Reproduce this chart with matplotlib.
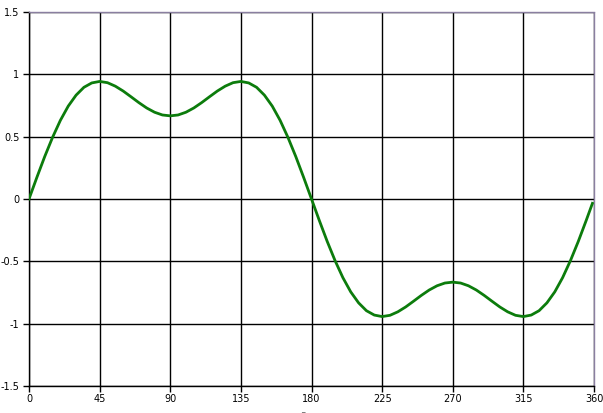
import matplotlib
matplotlib.use("Agg")
import matplotlib.pyplot as plt
from matplotlib.ticker import FuncFormatter

# curve values, every 5 degrees (plus last sample at 359)
ANGLE = list(range(0, 360, 5)) + [359]
VALUE = [
    0.000, 0.173, 0.340, 0.494, 0.631, 0.745, 0.833, 0.896, 0.931, 0.943,
    0.933, 0.905, 0.866, 0.820, 0.773, 0.730, 0.696, 0.674, 0.667, 0.674,
    0.696, 0.730, 0.773, 0.820, 0.866, 0.905, 0.933, 0.943, 0.931, 0.896,
    0.833, 0.745, 0.631, 0.494, 0.340, 0.173, 0.000,
    -0.173, -0.340, -0.494, -0.631, -0.745, -0.833, -0.896, -0.931, -0.943,
    -0.933, -0.905, -0.866, -0.820, -0.773, -0.730, -0.696, -0.674, -0.667,
    -0.674, -0.696, -0.730, -0.773, -0.820, -0.866, -0.905, -0.933, -0.943,
    -0.931, -0.896, -0.833, -0.745, -0.631, -0.494, -0.340, -0.173, -0.035,
]
X_TICKS = [0, 45, 90, 135, 180, 225, 270, 315, 360]
Y_TICKS = [-1.5, -1, -0.5, 0, 0.5, 1, 1.5]

fig = plt.figure(figsize=(6.03, 4.13), dpi=100)
ax = fig.add_axes([29 / 603, 27 / 413, 565 / 603, 374 / 413])

ax.plot(ANGLE, VALUE, color="#0c7c0c", lw=2.0, zorder=3)

ax.set_xlim(0, 360)
ax.set_ylim(-1.5, 1.5)
ax.set_xticks(X_TICKS)
ax.set_yticks(Y_TICKS)
ax.yaxis.set_major_formatter(FuncFormatter(lambda v, p: f"{v:g}"))
ax.grid(True, color="black", lw=1.0)
ax.set_axisbelow(True)
ax.tick_params(direction="out", length=4, width=1, labelsize=7, pad=3, color="black")
ax.tick_params(axis="x", pad=2)

for s in ("left", "bottom"):
    ax.spines[s].set_color("black")
    ax.spines[s].set_linewidth(1.0)
for s in ("top", "right"):
    ax.spines[s].set_color("#8a7fa0")
    ax.spines[s].set_linewidth(1.0)
    ax.spines[s].set_linestyle((0, (1, 1)))

# tiny axis title below the tick labels
fig.text(303 / 603, 2 / 413, "_", fontsize=5, ha="center", va="baseline")

fig.savefig("out.png", dpi=100)
